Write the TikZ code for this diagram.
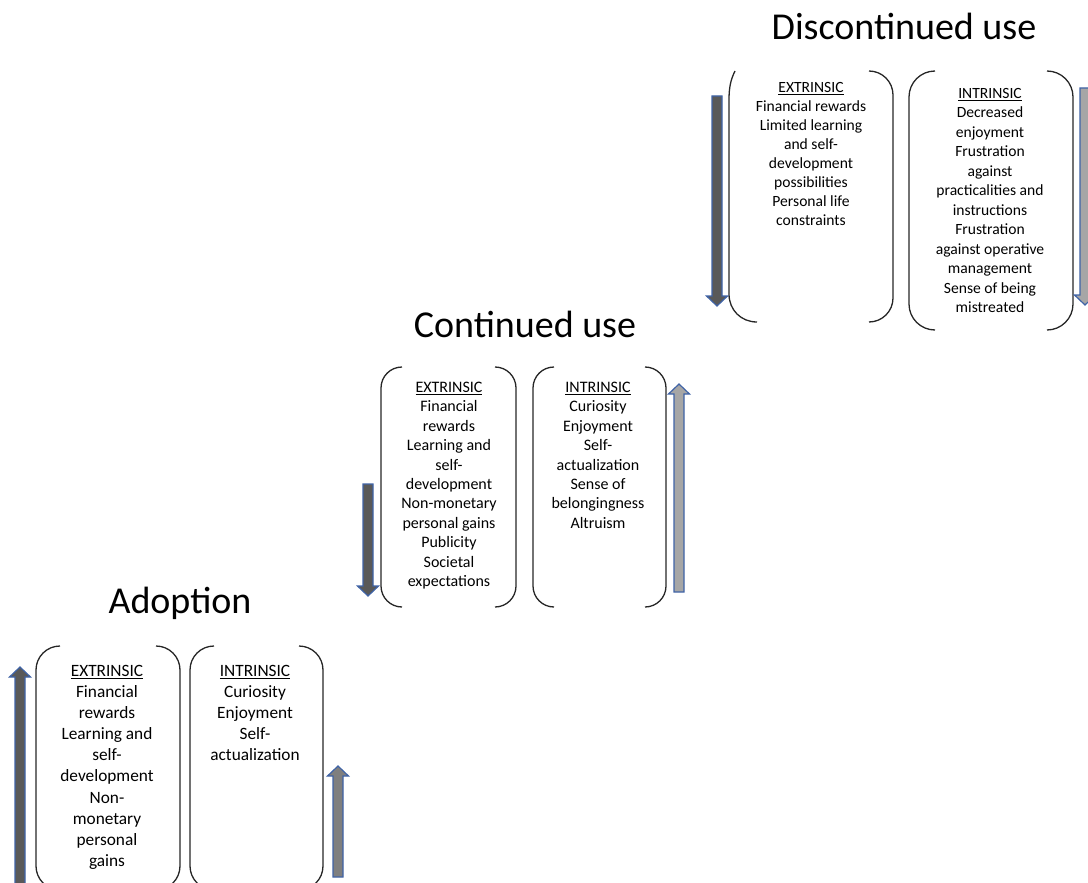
\documentclass[tikz,border=0pt]{standalone}
\usepackage{fontspec}
\setmainfont{Carlito}
\definecolor{arrowline}{HTML}{3F63A6}
\definecolor{darkfill}{HTML}{595959}
\definecolor{midfill}{HTML}{7F7F7F}
\definecolor{lightfill}{HTML}{A6A6A6}
\tikzset{
  brk/.style={draw=black!85, line width=1.3pt},
  barrow/.style={draw=arrowline, line width=1.2pt, line join=miter},
  stagetitle/.style={font=\fontsize{38}{46}\selectfont, anchor=base, inner sep=0pt},
  bodyA/.style={font=\fontsize{17.3}{21.1}\selectfont, align=center, anchor=north, inner sep=0pt},
  bodyC/.style={font=\fontsize{16}{19.4}\selectfont, align=center, anchor=north, inner sep=0pt},
  bodyD/.style={font=\fontsize{15.6}{19}\selectfont, align=center, anchor=north, inner sep=0pt},
  bodyDi/.style={font=\fontsize{15.6}{19.5}\selectfont, align=center, anchor=north, inner sep=0pt},
}
% x, tip y, tail y, head base y, fill
\newcommand{\BlockArrow}[5]{%
  \filldraw[barrow, fill=#5] ({#1-5},#3) -- ({#1-5},#4) -- ({#1-10.5},#4) -- (#1,#2)
    -- ({#1+10.5},#4) -- ({#1+5},#4) -- ({#1+5},#3) -- cycle;}
% left x, right x, top y, bottom y, radius
\newcommand{\BracketPair}[5]{%
  \draw[brk, rounded corners=#5] ({#1+#5},#3) -- (#1,#3) -- (#1,#4) -- ({#1+#5},#4);
  \draw[brk, rounded corners=#5] ({#2-#5},#3) -- (#2,#3) -- (#2,#4) -- ({#2-#5},#4);}
\begin{document}
\begin{tikzpicture}[x=1pt, y=-1pt]
\useasboundingbox (0,0) rectangle (1088,883);
\clip (0,0) rectangle (1088,883);

% ---------------- Adoption ----------------
\node[stagetitle] (tA) at (180,613) {Adoption};
\BracketPair{36}{180}{646}{890}{24}
\BracketPair{190}{323}{646}{890}{24}
\BlockArrow{20}{667}{895}{677}{darkfill}
\BlockArrow{338}{766}{877}{776}{midfill}
\node[bodyA] (aExt) at (107,665) {\underline{EXTRINSIC}\\Financial\\rewards\\Learning and\\self-\\development\\Non-\\monetary\\personal\\gains};
\node[bodyA] (aInt) at (255,665) {\underline{INTRINSIC}\\Curiosity\\Enjoyment\\Self-\\actualization};

% ---------------- Continued use ----------------
\node[stagetitle] (tC) at (525,337) {Continued use};
\BracketPair{381}{516}{367}{607}{21}
\BracketPair{533}{666}{367}{607}{21}
\BlockArrow{368}{596}{484}{586}{darkfill}
\BlockArrow{679}{384}{592}{394}{lightfill}
\node[bodyC] (cExt) at (449,382) {\underline{EXTRINSIC}\\Financial\\rewards\\Learning and\\self-\\development\\Non-monetary\\personal gains\\Publicity\\Societal\\expectations};
\node[bodyC] (cInt) at (598,382) {\underline{INTRINSIC}\\Curiosity\\Enjoyment\\Self-\\actualization\\Sense of\\belongingness\\Altruism};

% ---------------- Discontinued use ----------------
\node[stagetitle] (tD) at (904,40) {Discontinued use};
\draw[brk] (735,71) .. controls (730.5,80) and (729,88) .. (729,100) -- (729,294)
  .. controls (729,310) and (741,322) .. (757,322);
\draw[brk, rounded corners=24] (869,71) -- (893,71) -- (893,322) -- (869,322);
\BracketPair{909}{1073}{71}{330}{26}
\BlockArrow{717}{306}{96}{296}{darkfill}
\BlockArrow{1085}{305}{88}{295}{lightfill}
\node[bodyD] (dExt) at (811,82) {\underline{EXTRINSIC}\\Financial rewards\\Limited learning\\and self-\\development\\possibilities\\Personal life\\constraints};
\node[bodyDi] (dInt) at (990,88) {\underline{INTRINSIC}\\Decreased\\enjoyment\\Frustration\\against\\practicalities and\\instructions\\Frustration\\against operative\\management\\Sense of being\\mistreated};
\end{tikzpicture}
\end{document}
